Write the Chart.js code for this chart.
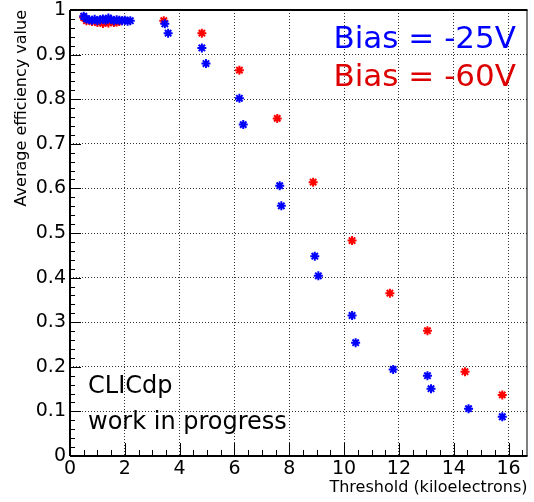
<!DOCTYPE html>
<html>
<head>
<meta charset="utf-8">
<script src="https://cdn.jsdelivr.net/npm/chart.js@4/dist/chart.umd.min.js"></script>
<style>
  html, body { margin: 0; padding: 0; background: #fff; }
  canvas { display: block; }
</style>
</head>
<body>
<canvas id="effChart" width="534" height="502"></canvas>
<script>
// threshold (ke) and average efficiency, bias -25V
const bias25X = [0.5, 0.6, 0.7, 0.8, 0.9, 1.0, 1.1, 1.2, 1.3, 1.4, 1.5, 1.6, 1.7, 1.8, 1.9, 2.0, 2.1, 2.2,
  3.46, 3.58, 4.81, 4.96, 6.18, 6.32, 7.65, 7.71, 8.93, 9.06, 10.29, 10.42, 11.79, 13.04, 13.17, 14.54, 15.77];
const bias25Y = [0.986, 0.980, 0.978, 0.977, 0.979, 0.976, 0.978, 0.980, 0.977, 0.982, 0.979, 0.976, 0.978, 0.977, 0.976, 0.977, 0.975, 0.976,
  0.969, 0.948, 0.915, 0.880, 0.802, 0.743, 0.606, 0.561, 0.448, 0.404, 0.315, 0.254, 0.194, 0.180, 0.151, 0.106, 0.088];

// bias -60V
const bias60X = [0.5, 0.6, 0.8, 1.0, 1.1, 1.2, 1.3, 1.4, 1.5, 1.6, 1.7, 1.8,
  3.42, 4.81, 6.18, 7.56, 8.87, 10.29, 11.67, 13.04, 14.41, 15.77];
const bias60Y = [0.983, 0.976, 0.974, 0.972, 0.975, 0.970, 0.973, 0.971, 0.974, 0.972, 0.973, 0.974,
  0.976, 0.948, 0.865, 0.757, 0.614, 0.483, 0.365, 0.281, 0.189, 0.137];

const xTitle = "Threshold (kiloelectrons)";
const yTitle = "Average efficiency value";
const seriesLabels = ["Bias = -25V", "Bias = -60V"];
const noteLines = ["CLICdp", "work in progress"];

const FONT = "'DejaVu Sans', sans-serif";

const toPoints = (xs, ys) => xs.map((x, i) => ({ x: x, y: ys[i] }));

/**
 * Frame, ROOT-like inward ticks and the text labels
 */
const rootStyle = {
  id: "rootStyle",
  afterDraw(chart) {
    const { ctx, chartArea: a, scales } = chart;
    const xs = scales.x;
    const ys = scales.y;
    ctx.save();
    ctx.strokeStyle = "#000";
    ctx.lineWidth = 1;

    // x ticks: major every 2, minor every 0.5
    ctx.beginPath();
    for (let v = 0; v <= xs.max + 1e-9; v += 0.5) {
      const px = Math.round(xs.getPixelForValue(v)) + 0.5;
      const len = Math.abs(v % 2) < 1e-6 ? 13 : 6;
      ctx.moveTo(px, a.bottom);
      ctx.lineTo(px, a.bottom - len);
    }
    // y ticks: major every 0.1, minor every 0.02
    for (let k = 0; k <= 50; k++) {
      const v = k * 0.02;
      const py = Math.round(ys.getPixelForValue(v)) + 0.5;
      const len = k % 5 === 0 ? 11 : 5;
      ctx.moveTo(a.left, py);
      ctx.lineTo(a.left + len, py);
    }
    ctx.stroke();

    // frame
    ctx.lineWidth = 2;
    ctx.beginPath();
    ctx.moveTo(a.left, a.top);
    ctx.lineTo(a.right, a.top);
    ctx.moveTo(a.left, a.top);
    ctx.lineTo(a.left, a.bottom);
    ctx.moveTo(a.left, a.bottom);
    ctx.lineTo(a.right, a.bottom);
    ctx.stroke();
    ctx.lineWidth = 1;
    ctx.beginPath();
    ctx.moveTo(a.right - 0.5, a.top);
    ctx.lineTo(a.right - 0.5, a.bottom);
    ctx.stroke();

    // bias labels
    ctx.textAlign = "right";
    ctx.textBaseline = "alphabetic";
    ctx.font = "31px " + FONT;
    ctx.fillStyle = "#0000ff";
    ctx.fillText(seriesLabels[0], 516, 48);
    ctx.fillStyle = "#dd0000";
    ctx.fillText(seriesLabels[1], 516, 86);

    // CLICdp note
    ctx.textAlign = "left";
    ctx.font = "24px " + FONT;
    ctx.fillStyle = "#000";
    ctx.fillText(noteLines[0], 88, 393);
    ctx.fillText(noteLines[1], 88, 429);
    ctx.restore();
  },
};

const ctx = document.getElementById("effChart").getContext("2d");

const myChart = new Chart(ctx, {
  type: "scatter",
  data: {
    datasets: [
      {
        label: seriesLabels[0],
        data: toPoints(bias25X, bias25Y),
        pointStyle: "star",
        pointRadius: 4.5,
        borderWidth: 2,
        borderColor: "#0000ff",
        backgroundColor: "#0000ff",
      },
      {
        label: seriesLabels[1],
        data: toPoints(bias60X, bias60Y),
        pointStyle: "star",
        pointRadius: 4.5,
        borderWidth: 2,
        borderColor: "#ff0000",
        backgroundColor: "#ff0000",
      },
    ],
  },
  options: {
    responsive: false,
    animation: false,
    devicePixelRatio: 1,
    layout: {
      padding: { top: 10, right: 4, left: 0, bottom: 0 },
    },
    scales: {
      x: {
        type: "linear",
        min: 0,
        max: 16.69,
        afterFit: (s) => {
          s.height = 46;
          s.paddingLeft = 0;
          s.paddingRight = 0;
        },
        ticks: {
          stepSize: 2,
          includeBounds: false,
          padding: 2,
          color: "#000",
          font: { family: FONT, size: 19 },
        },
        grid: {
          drawTicks: false,
          color: (c) => (c.tick && (c.tick.value === 0) ? "rgba(0,0,0,0)" : "#333"),
          lineWidth: 1,
        },
        border: { display: false, dash: [1, 2] },
        title: {
          display: true,
          text: xTitle,
          align: "end",
          color: "#000",
          font: { family: FONT, size: 16 },
          padding: { top: 0, bottom: 5 },
        },
      },
      y: {
        type: "linear",
        min: 0,
        max: 1,
        afterFit: (s) => {
          s.width = 70;
          s.paddingTop = 0;
          s.paddingBottom = 0;
        },
        ticks: {
          stepSize: 0.1,
          padding: 4,
          color: "#000",
          font: { family: FONT, size: 19 },
          callback: (v) => String(+v.toFixed(1)),
        },
        grid: {
          drawTicks: false,
          color: (c) => (c.tick && (c.tick.value === 0 || c.tick.value === 1) ? "rgba(0,0,0,0)" : "#333"),
          lineWidth: 1,
        },
        border: { display: false, dash: [1, 2] },
        title: {
          display: true,
          text: yTitle,
          align: "end",
          color: "#000",
          font: { family: FONT, size: 16 },
          padding: { top: 12, bottom: 0 },
        },
      },
    },
    plugins: {
      legend: { display: false },
      tooltip: { enabled: false },
    },
  },
  plugins: [rootStyle],
});
</script>
</body>
</html>
